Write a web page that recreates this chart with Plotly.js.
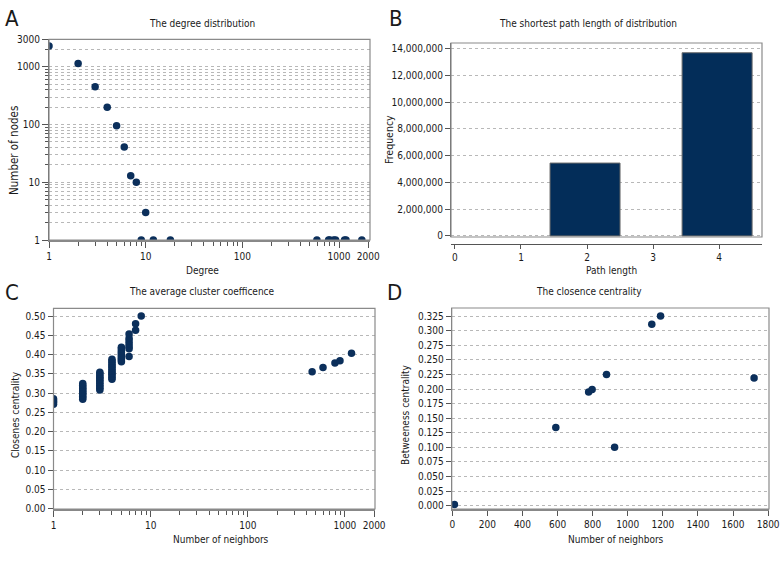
<!DOCTYPE html>
<html><head><meta charset="utf-8">
<script src="https://cdn.plot.ly/plotly-3.0.1.min.js"></script>
<style>html,body{margin:0;padding:0;background:#fff}#chart{width:780px;height:564px}</style>
</head><body><div id="chart"></div>
<script>
// ---------- Panel A: degree distribution ----------
const degree    = [1, 2, 3, 4, 5, 6, 7, 8, 9, 10, 12, 18, 590, 780, 800, 880, 920, 1140, 1180, 1720];
const nodeCount = [2300, 1140, 450, 200, 95, 41, 13, 10, 1, 3, 1, 1, 1, 1, 1, 1, 1, 1, 1, 1];

// ---------- Panel B: shortest path length ----------
const pathLength = [2, 4];
const pathFreq   = [5450000, 13700000];

// ---------- Panel C: average cluster coefficient ----------
const cNeighbors = [
  1,1,1,1,1,
  2,2,2,2,2,2,2,2,2,2,2,
  3,3,3,3,3,3,3,3,3,3,3,3,
  4,4,4,4,4,4,4,4,4,4,4,4,4,
  5,5,5,5,5,5,5,5,5,
  6,6,6,6,6,6,6,
  7,7,
  8,
  460,595,790,890,1170
];
const cCloseness = [
  0.271,0.275,0.278,0.282,0.285,
  0.284,0.288,0.292,0.296,0.300,0.304,0.308,0.312,0.316,0.320,0.325,
  0.308,0.312,0.316,0.320,0.325,0.329,0.333,0.337,0.341,0.345,0.350,0.354,
  0.336,0.340,0.344,0.349,0.353,0.357,0.361,0.366,0.370,0.374,0.379,0.383,0.388,
  0.381,0.386,0.390,0.395,0.400,0.405,0.410,0.415,0.419,
  0.395,0.415,0.421,0.428,0.435,0.442,0.453,
  0.463,0.480,
  0.500,
  0.355,0.366,0.378,0.384,0.403
];

// ---------- Panel D: closeness centrality ----------
const dNeighbors   = [12, 590, 777, 797, 879, 925, 1137, 1187, 1720];
const dBetweenness = [0.002, 0.134, 0.195, 0.199, 0.225, 0.100, 0.311, 0.325, 0.219];

// ---------- tick labels ----------
const logMajor = [1, 10, 100, 1000];
const bYTicks = [0, 2000000, 4000000, 6000000, 8000000, 10000000, 12000000, 14000000];
const bXTicks = [0, 1, 2, 3, 4];

// minor log ticks
function logMinors(decades) {
  const out = [];
  decades.forEach(d => { for (let m = 2; m <= 9; m++) out.push(m * d); });
  return out;
}

const W = 780, H = 564;
const px = v => v / W;
const py = v => 1 - v / H;

const FONT = "'DejaVu Sans Condensed', 'Liberation Sans Narrow', 'Arial Narrow', sans-serif";
const NAVY = '#0b2f5b';
const TXT = '#1a1a1a';
const tickFont = {family: FONT, size: 10, color: TXT};
const GRID = '#b8b8b8';
const AXC = '#666';

function baseAxis(extra) {
  return Object.assign({
    showline: true, linecolor: AXC, linewidth: 1,
    ticks: 'outside', ticklen: 5, tickwidth: 1, tickcolor: '#555',
    tickfont: tickFont, zeroline: false, showgrid: false,
    fixedrange: true
  }, extra);
}

const traces = [
  {type: 'scatter', mode: 'markers', x: degree, y: nodeCount, xaxis: 'x', yaxis: 'y',
   marker: {color: NAVY, size: 7.5}, cliponaxis: true},
  {type: 'bar', x: pathLength, y: pathFreq, xaxis: 'x2', yaxis: 'y2',
   width: 1.06, offset: -0.56,
   marker: {color: '#032d59', line: {color: '#6a6a6a', width: 1}}},
  {type: 'scatter', mode: 'markers', x: cNeighbors, y: cCloseness, xaxis: 'x3', yaxis: 'y3',
   marker: {color: NAVY, size: 7.5}, cliponaxis: true},
  {type: 'scatter', mode: 'markers', x: dNeighbors, y: dBetweenness, xaxis: 'x4', yaxis: 'y4',
   marker: {color: NAVY, size: 7.5}, cliponaxis: true}
];

const layout = {
  width: W, height: H,
  margin: {l: 0, r: 0, t: 0, b: 0},
  paper_bgcolor: '#fff', plot_bgcolor: '#fff',
  showlegend: false,
  font: {family: FONT, size: 10, color: TXT},

  // Panel A
  xaxis: baseAxis({domain: [px(49), px(370)], anchor: 'y', type: 'log', range: [0, 3.32],
    tickvals: logMajor.concat([2000]), ticktext: ['1', '10', '100', '1000', '2000'], ticklen: 6,
    linewidth: 2, linecolor: '#888',
    minor: {tickvals: logMinors([1, 10, 100]), ticks: 'outside', ticklen: 4, tickcolor: '#555', showgrid: false}}),
  yaxis: baseAxis({domain: [py(240), py(39.3)], anchor: 'x', type: 'log', range: [0, Math.log10(3000)],
    tickvals: logMajor.concat([3000]), ticktext: ['1', '10', '100', '1000', '3000'], ticklen: 6,
    showgrid: true, gridcolor: GRID, griddash: 'dot', gridwidth: 1,
    minor: {tickvals: logMinors([1, 10, 100]).concat([2000]), ticks: 'outside', ticklen: 3, tickcolor: '#555',
            showgrid: true, gridcolor: GRID, griddash: 'dot', gridwidth: 1}}),

  // Panel B
  xaxis2: baseAxis({domain: [px(451), px(762)], anchor: 'free', position: py(244), range: [-0.06, 4.65],
    tickvals: bXTicks, linecolor: '#555', linewidth: 1.2, ticklen: 4}),
  yaxis2: baseAxis({domain: [py(237), py(43)], anchor: 'x2', range: [-80000, 14430000],
    tickvals: bYTicks, tickformat: ',d',
    showgrid: true, gridcolor: GRID, griddash: 'dot', gridwidth: 1}),

  // Panel C
  xaxis3: baseAxis({domain: [px(53.5), px(375)], anchor: 'y3', type: 'log', range: [0, 3.31],
    tickvals: logMajor.concat([2000]), ticktext: ['1', '10', '100', '1000', '2000'], ticklen: 6,
    linewidth: 2, linecolor: '#888',
    minor: {tickvals: logMinors([1, 10, 100]), ticks: 'outside', ticklen: 4, tickcolor: '#555', showgrid: false}}),
  yaxis3: baseAxis({domain: [py(509), py(308.3)], anchor: 'x3', range: [-0.001, 0.52],
    dtick: 0.05, tick0: 0, tickformat: '.2f',
    showgrid: true, gridcolor: GRID, griddash: 'dot', gridwidth: 1}),

  // Panel D
  xaxis4: baseAxis({domain: [px(451.7), px(769)], anchor: 'y4', range: [-3.4, 1805],
    dtick: 200, tick0: 0, linewidth: 2, linecolor: '#888'}),
  yaxis4: baseAxis({domain: [py(509), py(308)], anchor: 'x4', range: [-0.0057, 0.3389],
    dtick: 0.025, tick0: 0, tickformat: '.3f',
    showgrid: true, gridcolor: GRID, griddash: 'dot', gridwidth: 1}),

  shapes: [
    {type: 'rect', xref: 'x domain', yref: 'y domain', x0: 0, x1: 1, y0: 0, y1: 1, line: {color: '#8a8a8a', width: 1.2}},
    {type: 'rect', xref: 'x2 domain', yref: 'y2 domain', x0: 0, x1: 1, y0: 0, y1: 1, line: {color: '#8a8a8a', width: 1.2}},
    {type: 'rect', xref: 'x3 domain', yref: 'y3 domain', x0: 0, x1: 1, y0: 0, y1: 1, line: {color: '#8a8a8a', width: 1.2}},
    {type: 'rect', xref: 'x4 domain', yref: 'y4 domain', x0: 0, x1: 1, y0: 0, y1: 1, line: {color: '#8a8a8a', width: 1.2}}
  ],

  annotations: []
};

function txt(text, x, y, size, opts) {
  layout.annotations.push(Object.assign({
    text: text, xref: 'paper', yref: 'paper', x: px(x), y: py(y),
    xanchor: 'center', yanchor: 'middle', showarrow: false,
    font: {family: FONT, size: size, color: TXT}
  }, opts || {}));
}

// panel letters
txt('A', 12, 19, 22);
txt('B', 396, 19, 22);
txt('C', 12, 293, 22);
txt('D', 394, 293, 22);

// panel titles
txt('The degree distribution', 202, 24, 10);
txt('The shortest path length of distribution', 588, 24, 10);
txt('The average cluster coefficence', 202, 291, 10);
txt('The closence centrality', 589, 291, 10);

// axis titles
txt('Degree', 202, 270, 10);
txt('Path length', 611, 270, 10);
txt('Number of neighbors', 221, 539, 10);
txt('Number of neighbors', 616, 539, 10);
txt('Number of nodes', 14, 151, 11.5, {textangle: -90});
txt('Frequency', 389, 140, 10.5, {textangle: -90});
txt('Closenes centrality', 15, 415, 10, {textangle: -90});
txt('Betweeness centrality', 405, 415, 10, {textangle: -90});

Plotly.newPlot('chart', traces, layout, {displayModeBar: false, staticPlot: true});
</script>
</body></html>
